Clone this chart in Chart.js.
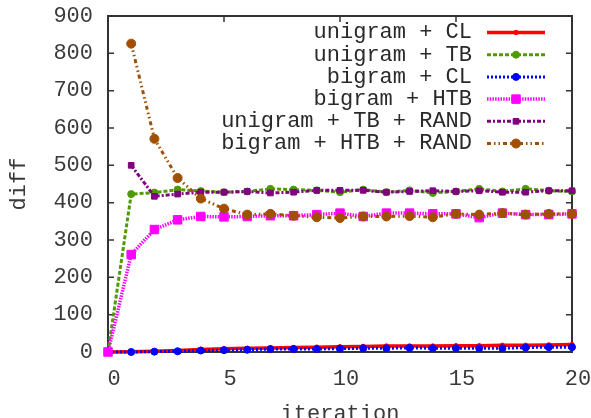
<!DOCTYPE html>
<html>
<head>
<meta charset="utf-8">
<script src="https://cdn.jsdelivr.net/npm/chart.js@4"></script>
<style>
  body { margin: 0; background: #fff; }
</style>
</head>
<body>
<canvas id="diffChart" width="591" height="418"></canvas>
<script>
const iterations = [0, 1, 2, 3, 4, 5, 6, 7, 8, 9, 10, 11, 12, 13, 14, 15, 16, 17, 18, 19, 20];
const seriesNames = [
  'unigram + CL',
  'unigram + TB',
  'bigram + CL',
  'bigram + HTB',
  'unigram + TB + RAND',
  'bigram + HTB + RAND',
];
const unigramCL = [0, 1, 2, 4, 7, 9, 10, 11, 12, 13, 14, 15, 16, 16, 16, 17, 17, 18, 18, 19, 20];
const unigramTB = [0, 423, 427, 435, 431, 428, 430, 437, 435, 433, 428, 435, 428, 433, 426, 430, 437, 430, 437, 432, 430];
const bigramCL = [0, 0, 1, 2, 4, 5, 6, 8, 8, 8, 9, 10, 10, 11, 10, 10, 10, 10, 12, 13, 13];
const bigramHTB = [0, 261, 328, 354, 363, 362, 363, 365, 365, 368, 372, 363, 372, 372, 370, 370, 360, 372, 368, 368, 370];
const unigramTBRand = [null, 500, 417, 423, 428, 428, 430, 426, 428, 433, 433, 433, 428, 430, 432, 430, 432, 428, 428, 432, 432];
const bigramHTBRand = [null, 826, 571, 466, 411, 384, 368, 370, 365, 361, 359, 363, 363, 364, 361, 370, 368, 372, 368, 370, 370];
const yTicks = { min: 0, max: 900, step: 100 };
const xTicks = { min: 0, max: 20, step: 5 };

const FONT = "'Liberation Mono', 'DejaVu Sans Mono', monospace";

const toPoints = (vals) => iterations.map((x, i) => ({ x: x, y: vals[i] }));

const styles = [
  { color: '#ff0000', width: 3.5, dash: [], point: 'circle', radius: 2.2 },
  { color: '#4f9a06', width: 3, dash: [4, 2], point: 'circle', radius: 3.5 },
  { color: '#0000ff', width: 3, dash: [2, 2], point: 'circle', radius: 3.5 },
  { color: '#ff00ff', width: 3.5, dash: [1.5, 1.2], point: 'rect', radius: 6 },
  { color: '#800080', width: 3, dash: [4, 2, 2, 2], point: 'rect', radius: 4 },
  { color: '#a05000', width: 3, dash: [4, 3, 1.5, 3, 1.5, 3], point: 'circle', radius: 4.5 },
];
const allValues = [unigramCL, unigramTB, bigramCL, bigramHTB, unigramTBRand, bigramHTBRand];

const datasets = allValues.map((vals, i) => ({
  label: seriesNames[i],
  data: toPoints(vals),
  borderColor: styles[i].color,
  backgroundColor: styles[i].color,
  borderWidth: styles[i].width,
  borderDash: styles[i].dash,
  pointStyle: styles[i].point,
  pointRadius: styles[i].radius,
  pointBorderWidth: 1,
  pointBackgroundColor: styles[i].color,
  pointBorderColor: styles[i].color,
  tension: 0,
  clip: false,
  order: 6 - i,
}));

// gnuplot style frame with inward ticks on all four sides
const framePlugin = {
  id: 'frame',
  beforeDatasetsDraw(chart) {
    const { ctx, chartArea: a, scales } = chart;
    ctx.save();
    ctx.strokeStyle = '#333';
    ctx.lineWidth = 2;
    ctx.setLineDash([]);
    ctx.strokeRect(a.left, a.top, a.right - a.left, a.bottom - a.top);
    ctx.lineWidth = 1.5;
    ctx.beginPath();
    scales.y.ticks.forEach((t) => {
      const y = scales.y.getPixelForValue(t.value);
      ctx.moveTo(a.left, y); ctx.lineTo(a.left + 6, y);
      ctx.moveTo(a.right, y); ctx.lineTo(a.right - 6, y);
    });
    scales.x.ticks.forEach((t) => {
      const x = scales.x.getPixelForValue(t.value);
      ctx.moveTo(x, a.bottom); ctx.lineTo(x, a.bottom - 6);
      ctx.moveTo(x, a.top); ctx.lineTo(x, a.top + 6);
    });
    ctx.stroke();
    ctx.restore();
  },
};

// legend inside the plot: right aligned text, sample line on the right
const keyPlugin = {
  id: 'key',
  afterDraw(chart) {
    const { ctx } = chart;
    const textRight = 472, lineL = 487, lineR = 545, top = 32.5, step = 22.2;
    ctx.save();
    chart.data.datasets.forEach((ds, i) => {
      const y = top + i * step;
      ctx.font = '22px ' + FONT;
      ctx.fillStyle = '#2a2a2a';
      ctx.textAlign = 'right';
      ctx.textBaseline = 'middle';
      ctx.fillText(ds.label, textRight, y);
      ctx.strokeStyle = ds.borderColor;
      ctx.lineWidth = ds.borderWidth;
      ctx.setLineDash(ds.borderDash);
      ctx.beginPath();
      ctx.moveTo(lineL, y);
      ctx.lineTo(lineR, y);
      ctx.stroke();
      ctx.setLineDash([]);
      ctx.fillStyle = ds.pointBackgroundColor;
      ctx.strokeStyle = ds.pointBorderColor;
      ctx.lineWidth = 1;
      Chart.helpers.drawPoint(ctx, {
        pointStyle: ds.pointStyle,
        radius: ds.pointRadius,
        borderWidth: 1,
        rotation: 0,
      }, (lineL + lineR) / 2, y);
    });
    ctx.restore();
  },
};

new Chart(document.getElementById('diffChart').getContext('2d'), {
  type: 'line',
  data: { datasets: datasets },
  options: {
    responsive: false,
    animation: false,
    layout: { padding: { left: 0, top: 16, right: 19, bottom: 0 } },
    plugins: {
      legend: { display: false },
      tooltip: { enabled: false },
    },
    scales: {
      x: {
        type: 'linear',
        min: xTicks.min,
        max: xTicks.max,
        afterFit(scale) {
          scale.height = 66;
          scale.paddingLeft = 0;
          scale.paddingRight = 0;
        },
        grid: { display: false, drawTicks: false },
        border: { display: false },
        ticks: {
          stepSize: xTicks.step,
          padding: 14,
          labelOffset: 6,
          color: '#3a3a3a',
          font: { family: FONT, size: 22 },
          maxRotation: 0,
        },
        title: {
          display: true,
          text: 'iteration',
          color: '#3a3a3a',
          font: { family: FONT, size: 22 },
          padding: { top: 0, bottom: -9 },
        },
      },
      y: {
        min: yTicks.min,
        max: yTicks.max,
        afterFit(scale) {
          scale.width = 108;
          scale.paddingTop = 0;
          scale.paddingBottom = 0;
        },
        grid: { display: false, drawTicks: false },
        border: { display: false },
        ticks: {
          stepSize: yTicks.step,
          padding: 15,
          color: '#3a3a3a',
          font: { family: FONT, size: 22 },
        },
        title: {
          display: true,
          text: 'diff',
          color: '#3a3a3a',
          font: { family: FONT, size: 22 },
          padding: { top: 6, bottom: 0 },
        },
      },
    },
  },
  plugins: [framePlugin, keyPlugin],
});
</script>
</body>
</html>
